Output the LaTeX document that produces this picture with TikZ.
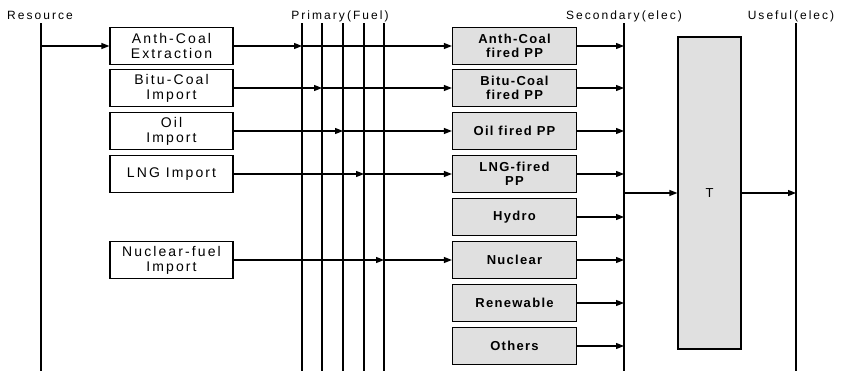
\documentclass[tikz,border=0pt]{standalone}
\usepackage{fontspec}
\setmainfont{Liberation Sans}
\newfontfamily\stagefont{Liberation Sans}[LetterSpace=17]
\newfontfamily\sourcefont{Liberation Sans}[LetterSpace=15]
\newfontfamily\plantfont{Liberation Sans}[LetterSpace=10]
\usepackage{tikz}
\usetikzlibrary{positioning,arrows.meta}
\definecolor{plantgray}{RGB}{224,224,224}
\tikzset{
  source-box/.style={draw=black, line width=1.2pt, minimum width=123pt, minimum height=37pt,
    inner sep=1pt, align=center, font=\sourcefont\fontsize{14}{15}\selectfont},
  plant-box/.style={draw=black, line width=1.2pt, fill=plantgray, minimum width=124pt,
    minimum height=37pt, inner sep=1pt, align=center,
    font=\plantfont\bfseries\fontsize{13}{14.5}\selectfont},
  stage-label/.style={font=\stagefont\fontsize{12}{14}\selectfont, anchor=base, inner sep=0pt},
  stage-line/.style={line width=1.2pt},
  flow-arrow/.style={-{Triangle[length=8pt,width=6pt]}, line width=1.2pt}
}

\begin{document}
\begin{tikzpicture}[x=1pt,y=-1pt]
\useasboundingbox (0,0) rectangle (842,373);
% stage headings
\node[stage-label] (reslbl) at (40,19)  {Resource};
\node[stage-label] (prilbl) at (340,19) {Primary(Fuel)};
\node[stage-label] (seclbl) at (624,19) {Secondary(elec)};
\node[stage-label] (uselbl) at (791,19) {Useful(elec)};
% stage lines
\coordinate (res) at (41,23);
\coordinate (p1) at (302,23);
\coordinate (p2) at (322,23);
\coordinate (p3) at (343,23);
\coordinate (p4) at (364,23);
\coordinate (p5) at (384,23);
\coordinate (sec) at (624,23);
\coordinate (use) at (796,23);
\foreach \c in {res,p1,p2,p3,p4,p5,sec,use}
  \draw[stage-line] (\c) -- ++(0,348);
% resource side: extraction and imports
\node[source-box] (anthsrc) at (171.5,46)  {Anth-Coal\\Extraction};
\node[source-box] (bitusrc) at (171.5,88)  {Bitu-Coal\\Import};
\node[source-box] (oilsrc)  at (171.5,131) {Oil\\Import};
\node[source-box] (lngsrc)  at (171.5,174) {LNG Import};
\node[source-box] (nucsrc)  at (171.5,260) {Nuclear-fuel\\Import};
% power plants
\node[plant-box] (anthpp)  at (514.5,46)  {Anth-Coal\\fired PP};
\node[plant-box] (bitupp)  at (514.5,88)  {Bitu-Coal\\fired PP};
\node[plant-box] (oilpp)   at (514.5,131) {Oil fired PP};
\node[plant-box] (lngpp)   at (514.5,174) {LNG-fired\\PP};
\node[plant-box] (hydropp) at (514.5,217) {Hydro};
\node[plant-box] (nucpp)   at (514.5,260) {Nuclear};
\node[plant-box] (renewpp) at (514.5,303) {Renewable};
\node[plant-box] (otherpp) at (514.5,346) {Others};
% transmission
\node[draw=black, line width=1.2pt, fill=plantgray, minimum width=63pt, minimum height=312pt,
  inner sep=0pt, font=\fontsize{13}{14}\selectfont] (trans) at (709.5,193) {T};
% resource feeds extraction
\draw[flow-arrow] (anthsrc.west -| res) -- (anthsrc.west);
% fuels to plants, each marked on its primary line
\draw[flow-arrow] (anthsrc.east) -- (anthsrc.east -| p1);
\draw[flow-arrow] (anthsrc.east -| p1) -- (anthpp.west);
\draw[flow-arrow] (bitusrc.east) -- (bitusrc.east -| p2);
\draw[flow-arrow] (bitusrc.east -| p2) -- (bitupp.west);
\draw[flow-arrow] (oilsrc.east) -- (oilsrc.east -| p3);
\draw[flow-arrow] (oilsrc.east -| p3) -- (oilpp.west);
\draw[flow-arrow] (lngsrc.east) -- (lngsrc.east -| p4);
\draw[flow-arrow] (lngsrc.east -| p4) -- (lngpp.west);
\draw[flow-arrow] (nucsrc.east) -- (nucsrc.east -| p5);
\draw[flow-arrow] (nucsrc.east -| p5) -- (nucpp.west);
% plants to secondary electricity
\foreach \pp in {anthpp,bitupp,oilpp,lngpp,hydropp,nucpp,renewpp,otherpp}
  \draw[flow-arrow] (\pp.east) -- (\pp.east -| sec);
% secondary through T to useful
\draw[flow-arrow] (trans.west -| sec) -- (trans.west);
\draw[flow-arrow] (trans.east) -- (trans.east -| use);
\end{tikzpicture}
\end{document}
